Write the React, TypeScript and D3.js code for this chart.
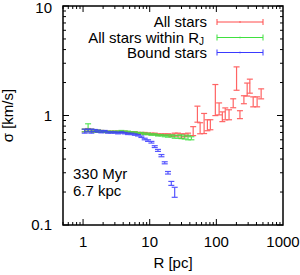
import React from 'react';
import * as d3 from 'd3';

// radius bins (pc) for the inner region
const radiusInner = [1.06, 1.19, 1.33, 1.50, 1.68, 1.88, 2.11, 2.37, 2.66, 2.99, 3.35, 3.76, 4.22, 4.73, 5.31, 5.96, 6.68, 7.50, 8.41, 9.44, 10.6, 11.9, 13.3, 15.0, 16.8, 18.8, 21.1, 23.7, 26.6, 29.9, 33.5, 37.6, 42.2];

// bound stars
const sigmaBound = [0.72, 0.73, 0.72, 0.73, 0.72, 0.71, 0.72, 0.70, 0.70, 0.70, 0.69, 0.70, 0.69, 0.68, 0.68, 0.67, 0.66, 0.64, 0.61, 0.59, 0.57, 0.52, 0.48, 0.43, 0.37, 0.30, 0.24, 0.20];
const errBound = [0.03, 0.02, 0.03, 0.015, 0.015, 0.015, 0.01, 0.01, 0.01, 0.01, 0.01, 0.01, 0.01, 0.01, 0.01, 0.01, 0.01, 0.01, 0.01, 0.01, 0.01, 0.01, 0.01, 0.01, 0.008, 0.008, 0.01, 0.021];

// all stars within R_J
const sigmaRj = [0.73, 0.78, 0.73, 0.72, 0.72, 0.72, 0.71, 0.71, 0.71, 0.71, 0.71, 0.72, 0.71, 0.71, 0.70, 0.70, 0.69, 0.69, 0.68, 0.68, 0.67, 0.67, 0.66, 0.66, 0.65, 0.65, 0.65, 0.64, 0.64, 0.64, 0.63, 0.63, 0.62];
const errRj = [0.02, 0.06, 0.02, 0.015, 0.015, 0.01, 0.01, 0.01, 0.01, 0.01, 0.01, 0.01, 0.01, 0.01, 0.01, 0.01, 0.01, 0.01, 0.01, 0.01, 0.01, 0.01, 0.01, 0.01, 0.01, 0.015, 0.015, 0.02, 0.02, 0.025, 0.02, 0.03, 0.02];

// all stars
const radiusOuter = [44.9, 52.0, 57.1, 65.5, 73.4, 81.3, 96.6, 110, 123, 136, 155, 179, 201, 226, 259, 290, 318, 357, 409, 470];
const sigmaAllInner = [0.73, 0.74, 0.73, 0.72, 0.72, 0.72, 0.71, 0.71, 0.71, 0.71, 0.71, 0.71, 0.71, 0.70, 0.70, 0.70, 0.69, 0.69, 0.69, 0.68, 0.68, 0.68, 0.67, 0.67, 0.67, 0.67, 0.66, 0.67, 0.67, 0.65, 0.66, 0.67];
const errAllInner = [0.02, 0.02, 0.02, 0.015, 0.015, 0.01, 0.01, 0.01, 0.01, 0.01, 0.01, 0.01, 0.01, 0.01, 0.01, 0.01, 0.01, 0.01, 0.01, 0.01, 0.01, 0.01, 0.01, 0.01, 0.01, 0.01, 0.015, 0.02, 0.02, 0.03, 0.02, 0.02];
const sigmaAllOuter = [0.723, 1.043, 0.770, 0.864, 0.820, 0.828, 1.458, 1.158, 0.979, 1.043, 1.021, 1.299, 2.24, 1.021, 1.398, 1.741, 1.873, 1.340, 1.340, 1.585];
const errAllOuter = [0.068, 0.174, 0.089, 0.18, 0.094, 0.087, 0.46, 0.145, 0.10, 0.13, 0.107, 0.122, 0.54, 0.085, 0.117, 0.237, 0.274, 0.14, 0.14, 0.166];

const xTickLabels = ['1', '10', '100', '1000'];
const yTickLabels = ['0.1', '1', '10'];
const legendLabels = ['All stars', 'All stars within R', 'Bound stars'];
const seriesColors = ['#ff4a4a', '#3fe03f', '#3a3aff'];

const W = 300;
const H = 275;
const left = 63;
const right = 283;
const top = 6;
const bottom = 225;
const FONT = '"Liberation Sans", Arial, Helvetica, sans-serif';

const App = () => {
    const x = d3.scaleLog().domain([0.5, 1000]).range([left, right]);
    const y = d3.scaleLog().domain([0.1, 10]).range([bottom, top]);

    const allSeries = [
        {r: radiusInner.slice(0, sigmaAllInner.length).concat(radiusOuter), s: sigmaAllInner.concat(sigmaAllOuter), e: errAllInner.concat(errAllOuter)},
        {r: radiusInner, s: sigmaRj, e: errRj},
        {r: radiusInner, s: sigmaBound, e: errBound},
    ];

    const minorX: number[] = [];
    [0.1, 1, 10, 100].forEach(dec => {
        for (let m = 1; m <= 9; m++) {
            const v = dec * m;
            if (v >= 0.5 && v <= 1000) minorX.push(v);
        }
    });
    const minorY: number[] = [];
    [0.1, 1].forEach(dec => {
        for (let m = 2; m <= 9; m++) minorY.push(dec * m);
    });
    const majorX = xTickLabels.map(Number);
    const majorY = yTickLabels.map(Number);

    const cap = 3;
    const legendY = [22, 37.5, 52.5];
    const lx0 = 217;
    const lx1 = 263;

    return (
        <svg width={W} height={H} style={{position: 'absolute', left: 0, top: 0, background: '#fff'}} fontFamily={FONT}>
            <rect x={0} y={0} width={W} height={H} fill='#fff'/>
            {/* data */}
            <g className='data' fill='none' strokeWidth={1.2}>
                {allSeries.map((ser, si) => (
                    <g key={si} stroke={seriesColors[si]} opacity={0.85}>
                        {ser.s.map((s, i) => {
                            const cx = x(ser.r[i]);
                            const y0 = y(s - ser.e[i]);
                            const y1 = y(s + ser.e[i]);
                            return (
                                <g key={i}>
                                    <line x1={cx} x2={cx} y1={y0} y2={y1}/>
                                    <line x1={cx - cap} x2={cx + cap} y1={y0} y2={y0}/>
                                    <line x1={cx - cap} x2={cx + cap} y1={y1} y2={y1}/>
                                </g>
                            );
                        })}
                    </g>
                ))}
            </g>
            {/* ticks */}
            <g stroke='#000' strokeWidth={1}>
                {minorX.map((v, i) => {
                    const len = majorX.includes(v) ? 6 : 3;
                    return (
                        <g key={'mx' + i}>
                            <line x1={x(v)} x2={x(v)} y1={bottom} y2={bottom - len}/>
                            <line x1={x(v)} x2={x(v)} y1={top} y2={top + len}/>
                        </g>
                    );
                })}
                {minorY.concat(majorY).map((v, i) => {
                    const len = majorY.includes(v) ? 6 : 3;
                    return (
                        <g key={'my' + i}>
                            <line x1={left} x2={left + len} y1={y(v)} y2={y(v)}/>
                            <line x1={right} x2={right - len} y1={y(v)} y2={y(v)}/>
                        </g>
                    );
                })}
            </g>
            <rect x={left} y={top} width={right - left} height={bottom - top} fill='none' stroke='#000' strokeWidth={1.5}/>
            {/* tick labels */}
            <g fontSize={15} fill='#000'>
                {xTickLabels.map((t, i) => (
                    <text key={t} x={x(majorX[i])} y={bottom + 22} textAnchor='middle'>{t}</text>
                ))}
                {yTickLabels.map((t, i) => (
                    <text key={t} x={52} y={Math.max(y(majorY[i]) + 5, 13)} textAnchor='end'>{t}</text>
                ))}
                <text x={(left + right) / 2} y={268} textAnchor='middle'>R [pc]</text>
                <text transform={`translate(13, ${(top + bottom) / 2}) rotate(-90)`} textAnchor='middle'>σ [km/s]</text>
                <text x={73} y={179}>330 Myr</text>
                <text x={73} y={196}>6.7 kpc</text>
            </g>
            {/* legend */}
            <g fontSize={15}>
                {legendLabels.map((lab, i) => (
                    <g key={lab}>
                        <text x={i === 1 ? 199 : 207} y={legendY[i] + 5} textAnchor='end'>{lab}</text>
                        {i === 1 && <text x={199} y={legendY[i] + 7} fontSize={10}>J</text>}
                        <g stroke={seriesColors[i]} strokeWidth={1}>
                            <line x1={lx0} x2={lx1} y1={legendY[i]} y2={legendY[i]}/>
                            <line x1={lx0} x2={lx0} y1={legendY[i] - cap} y2={legendY[i] + cap}/>
                            <line x1={lx1} x2={lx1} y1={legendY[i] - cap} y2={legendY[i] + cap}/>
                            <line x1={(lx0 + lx1) / 2} x2={(lx0 + lx1) / 2} y1={legendY[i] - 0.8} y2={legendY[i] + 0.8}/>
                        </g>
                    </g>
                ))}
            </g>
        </svg>
    );
}

export default App;
